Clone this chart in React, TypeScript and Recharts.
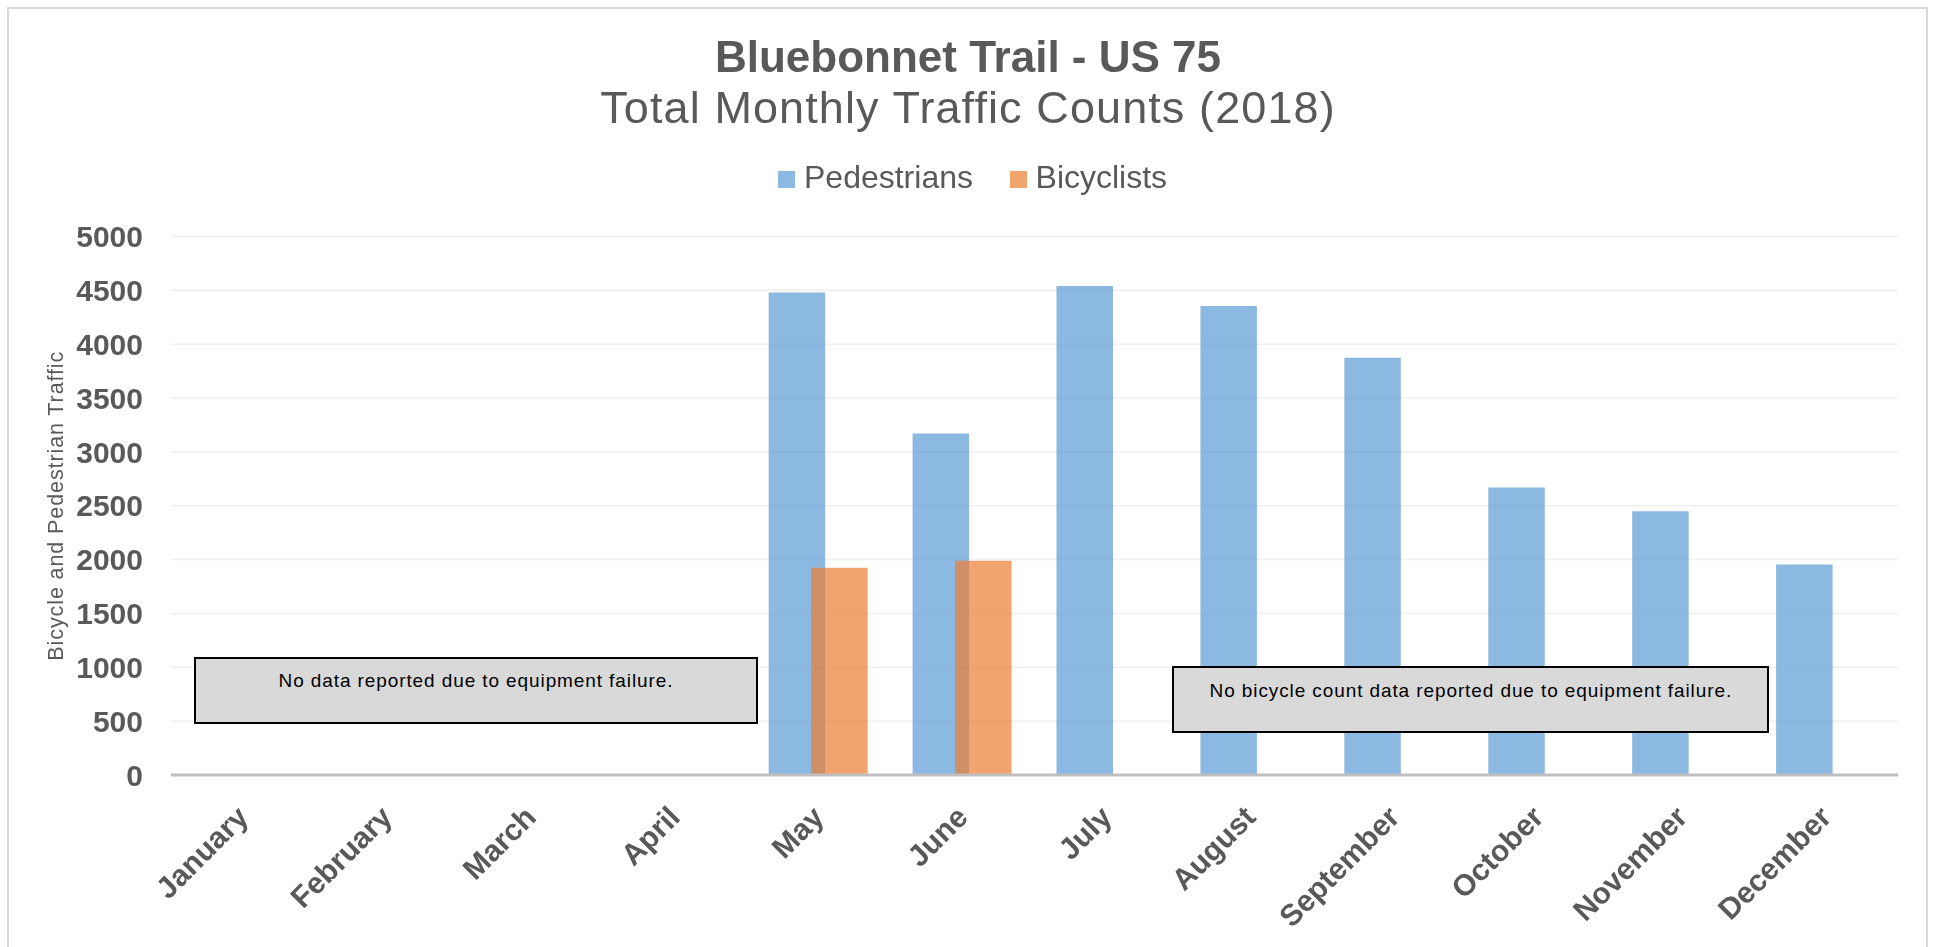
import { BarChart, Bar, XAxis, YAxis, CartesianGrid, Legend } from 'recharts';

const months = [
  'January', 'February', 'March', 'April', 'May', 'June',
  'July', 'August', 'September', 'October', 'November', 'December'
];
const pedestrians = [null, null, null, null, 4480, 3170, 4540, 4355, 3875, 2670, 2450, 1955];
const bicyclists = [null, null, null, null, 1925, 1990, null, null, null, null, null, null];
const yTicks = [0, 500, 1000, 1500, 2000, 2500, 3000, 3500, 4000, 4500, 5000];
const seriesNames = ['Pedestrians', 'Bicyclists'];

const data = months.map((month, i) => ({
  month,
  pedestrians: pedestrians[i],
  bicyclists: bicyclists[i]
}));

const FONT = '"Liberation Sans", Arial, sans-serif';
const GREY = '#595959';
const BLUE = '#5B9BD5';
const ORANGE = '#ED7D31';
const colors = [BLUE, ORANGE];

const MonthTick = ({ x, y, payload }: any) => {
  const ax = x + 7;
  const ay = y + 44;
  return (
    <text
      x={ax}
      y={ay}
      textAnchor="end"
      transform={`rotate(-45, ${ax}, ${ay})`}
      fill={GREY}
      fontSize={30}
      fontWeight={700}
      fontFamily={FONT}
    >
      {payload.value}
    </text>
  );
};

const AxisTitle = ({ viewBox }: any) => {
  const cy = viewBox && viewBox.height ? viewBox.y + viewBox.height / 2 : 498;
  return (
    <text
      x={55}
      y={cy}
      transform={`rotate(-90, 55, ${cy})`}
      textAnchor="middle"
      fill={GREY}
      fontSize={21.5}
      letterSpacing={0.9}
      fontFamily={FONT}
    >
      Bicycle and Pedestrian Traffic
    </text>
  );
};

const LegendContent = () => (
  <div style={{ display: 'flex', fontFamily: FONT, fontSize: 32, lineHeight: '32px', color: GREY }}>
    {seriesNames.map((name, i) => (
      <div key={name} style={{ display: 'flex', marginRight: 36.6 }}>
        <div style={{ width: 17.4, height: 17.4, marginTop: 9.5, marginRight: 8.6, background: colors[i], opacity: 0.7 }} />
        <span>{name}</span>
      </div>
    ))}
  </div>
);

const noteBox = {
  position: 'absolute' as const,
  boxSizing: 'border-box' as const,
  border: '2px solid #000',
  background: '#D9D9D9',
  fontFamily: FONT,
  fontSize: 19,
  lineHeight: '19px',
  letterSpacing: 0.9,
  color: '#000',
  textAlign: 'center' as const,
  paddingTop: 12.5
};

export default function App() {
  return (
    <div style={{ position: 'relative', width: 1920, height: 931, fontFamily: FONT }}>
      <div
        style={{
          position: 'fixed', top: 7, left: 7, width: 1921, height: 980,
          boxSizing: 'border-box', border: '2px solid #D9D9D9', pointerEvents: 'none'
        }}
      />
      <div style={{ position: 'absolute', top: 26.5, left: 0, width: 1920, textAlign: 'center', fontSize: 44, lineHeight: '44px', fontWeight: 700, color: GREY }}>
        Bluebonnet Trail - US 75
      </div>
      <div style={{ position: 'absolute', top: 77.2, left: 0, width: 1920, textAlign: 'center', fontSize: 45, lineHeight: '45px', letterSpacing: 1.1, color: GREY }}>
        Total Monthly Traffic Counts (2018)
      </div>

      <BarChart
        width={1920}
        height={931}
        data={data}
        margin={{ top: 228.5, right: 30, bottom: 14, left: 0 }}
        barSize={56.5}
        barGap={-14}
      >
        <CartesianGrid vertical={false} stroke="#EFEFEF" strokeWidth={1.5} />
        <XAxis
          dataKey="month"
          interval={0}
          tickLine={false}
          tickSize={0}
          tickMargin={0}
          axisLine={{ stroke: '#BFBFBF', strokeWidth: 3 }}
          height={150}
          tick={(props: any) => <MonthTick {...props} />}
        />
        <YAxis
          domain={[0, 5000]}
          ticks={yTicks}
          interval={0}
          width={163}
          axisLine={false}
          tickLine={false}
          tickSize={0}
          tickMargin={28}
          tick={{ fill: GREY, fontSize: 30, fontWeight: 700, fontFamily: FONT }}
          label={{ content: (p: any) => <AxisTitle {...p} /> }}
        />
        <Legend
          layout="horizontal"
          verticalAlign="middle"
          align="center"
          wrapperStyle={{ top: 153, left: 770, width: 500 }}
          content={() => <LegendContent />}
        />
        <Bar dataKey="pedestrians" name="Pedestrians" fill={BLUE} fillOpacity={0.7} isAnimationActive={false} />
        <Bar dataKey="bicyclists" name="Bicyclists" fill={ORANGE} fillOpacity={0.7} isAnimationActive={false} />
      </BarChart>

      <div style={{ ...noteBox, left: 186.3, top: 648.6, width: 563.3, height: 67.4 }}>
        No data reported due to equipment failure.
      </div>
      <div style={{ ...noteBox, left: 1164.3, top: 658, width: 597, height: 67.3 }}>
        No bicycle count data reported due to equipment failure.
      </div>
    </div>
  );
}
